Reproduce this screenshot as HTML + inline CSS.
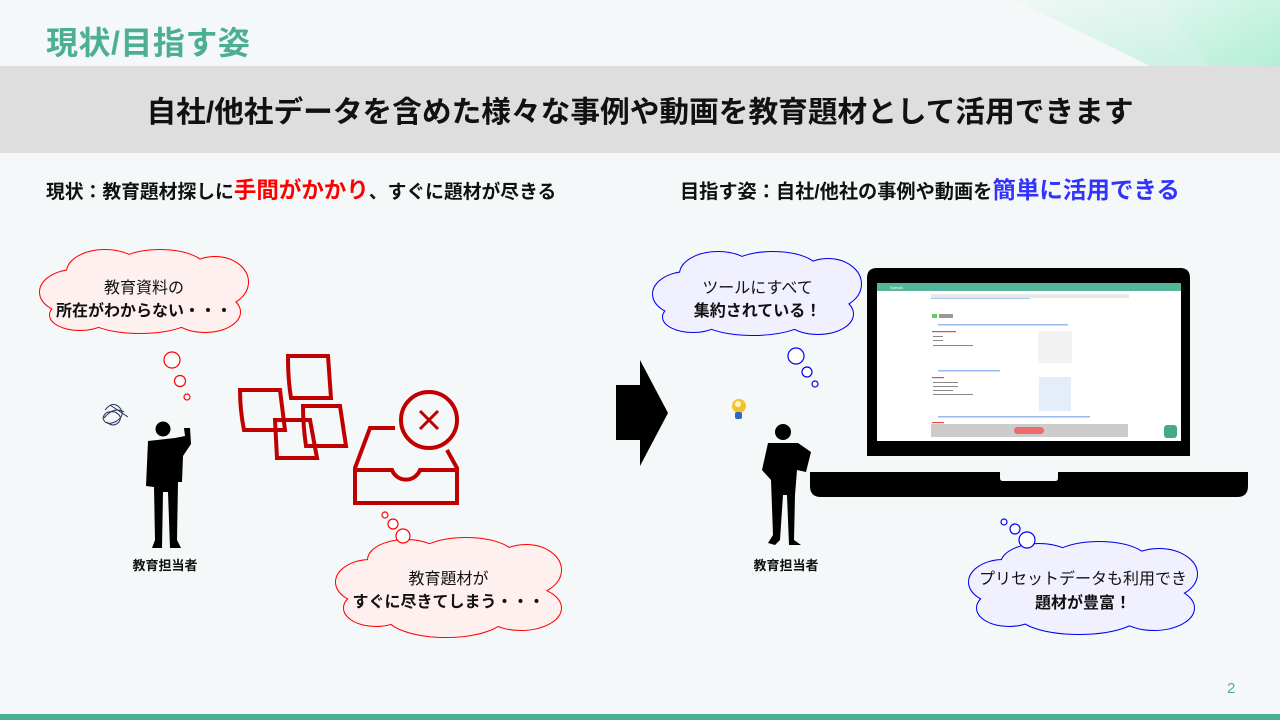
<!DOCTYPE html>
<html><head><meta charset="utf-8">
<style>
body{margin:0;width:1280px;height:720px;overflow:hidden;background:#f5f8f9;font-family:"Liberation Sans","Noto Sans CJK JP",sans-serif;position:relative}
.t{position:absolute;white-space:nowrap}
</style></head><body>
<svg width="1280" height="720" style="position:absolute;left:0;top:0">
<defs>
<linearGradient id="g1" x1="0" y1="0" x2="1" y2="1"><stop offset="0" stop-color="#eef8f4"/><stop offset="1" stop-color="#c4f0e0"/></linearGradient>
<linearGradient id="g2" x1="0" y1="0" x2="1" y2="1"><stop offset="0" stop-color="#e0f7ee"/><stop offset="1" stop-color="#aeeed6"/></linearGradient>
</defs>
<polygon points="1015,0 1280,0 1280,66 1150,66" fill="url(#g1)"/>
<polygon points="1160,0 1280,0 1280,66 1210,66" fill="url(#g2)" opacity="0.8"/>
<rect x="0" y="66" width="1280" height="87" fill="#dedede"/>
<rect x="0" y="714" width="1280" height="6" fill="#4caf94"/>

<g>
<g fill="#fff0f0" stroke="#ff0000" stroke-width="2">
<ellipse cx="75" cy="292" rx="35" ry="22"/><ellipse cx="105" cy="272" rx="38" ry="22"/><ellipse cx="160" cy="268" rx="45" ry="18"/><ellipse cx="215" cy="282" rx="33" ry="25"/><ellipse cx="205" cy="312" rx="35" ry="20"/><ellipse cx="140" cy="315" rx="55" ry="18"/><ellipse cx="80" cy="315" rx="30" ry="15"/>
</g>
<g fill="#fff0f0">
<ellipse cx="75" cy="292" rx="35" ry="22"/><ellipse cx="105" cy="272" rx="38" ry="22"/><ellipse cx="160" cy="268" rx="45" ry="18"/><ellipse cx="215" cy="282" rx="33" ry="25"/><ellipse cx="205" cy="312" rx="35" ry="20"/><ellipse cx="140" cy="315" rx="55" ry="18"/><ellipse cx="80" cy="315" rx="30" ry="15"/>
<ellipse cx="143" cy="293" rx="85" ry="25"/>
</g></g>
<g fill="#fff" stroke="#ff0000" stroke-width="1.2"><circle cx="172" cy="360" r="8"/><circle cx="180" cy="381" r="5.5"/><circle cx="187" cy="397" r="3"/></g>

<g transform="translate(296,290)">
<g fill="#fff0f0" stroke="#ff0000" stroke-width="2">
<ellipse cx="75" cy="292" rx="35" ry="22"/><ellipse cx="110" cy="270" rx="38" ry="20"/><ellipse cx="170" cy="266" rx="48" ry="18"/><ellipse cx="230" cy="280" rx="35" ry="25"/><ellipse cx="225" cy="318" rx="40" ry="22"/><ellipse cx="150" cy="325" rx="60" ry="22"/><ellipse cx="80" cy="318" rx="32" ry="18"/>
</g>
<g fill="#fff0f0">
<ellipse cx="75" cy="292" rx="35" ry="22"/><ellipse cx="110" cy="270" rx="38" ry="20"/><ellipse cx="170" cy="266" rx="48" ry="18"/><ellipse cx="230" cy="280" rx="35" ry="25"/><ellipse cx="225" cy="318" rx="40" ry="22"/><ellipse cx="150" cy="325" rx="60" ry="22"/><ellipse cx="80" cy="318" rx="32" ry="18"/>
<ellipse cx="152" cy="296" rx="90" ry="30"/>
</g></g>
<g fill="#fff" stroke="#ff0000" stroke-width="1.2"><circle cx="385" cy="515" r="3"/><circle cx="393" cy="524" r="5"/><circle cx="403" cy="536" r="7"/></g>

<g transform="translate(613,2)">
<g fill="#f0f0ff" stroke="#0000ee" stroke-width="2">
<ellipse cx="75" cy="292" rx="35" ry="22"/><ellipse cx="105" cy="272" rx="38" ry="22"/><ellipse cx="160" cy="268" rx="45" ry="18"/><ellipse cx="215" cy="282" rx="33" ry="25"/><ellipse cx="205" cy="312" rx="35" ry="20"/><ellipse cx="140" cy="315" rx="55" ry="18"/><ellipse cx="80" cy="315" rx="30" ry="15"/>
</g>
<g fill="#f0f0ff">
<ellipse cx="75" cy="292" rx="35" ry="22"/><ellipse cx="105" cy="272" rx="38" ry="22"/><ellipse cx="160" cy="268" rx="45" ry="18"/><ellipse cx="215" cy="282" rx="33" ry="25"/><ellipse cx="205" cy="312" rx="35" ry="20"/><ellipse cx="140" cy="315" rx="55" ry="18"/><ellipse cx="80" cy="315" rx="30" ry="15"/>
<ellipse cx="143" cy="293" rx="85" ry="25"/>
</g></g>
<g fill="#fff" stroke="#0000ee" stroke-width="1.2"><circle cx="796" cy="356" r="8"/><circle cx="807" cy="372" r="5"/><circle cx="815" cy="384" r="3"/></g>

<g transform="translate(929,290)">
<g fill="#f0f0ff" stroke="#0000ee" stroke-width="2">
<ellipse cx="75" cy="292" rx="35" ry="22"/><ellipse cx="110" cy="274" rx="38" ry="20"/><ellipse cx="170" cy="270" rx="48" ry="18"/><ellipse cx="230" cy="284" rx="38" ry="25"/><ellipse cx="225" cy="318" rx="40" ry="22"/><ellipse cx="150" cy="325" rx="60" ry="19"/><ellipse cx="80" cy="318" rx="32" ry="18"/>
</g>
<g fill="#f0f0ff">
<ellipse cx="75" cy="292" rx="35" ry="22"/><ellipse cx="110" cy="274" rx="38" ry="20"/><ellipse cx="170" cy="270" rx="48" ry="18"/><ellipse cx="230" cy="284" rx="38" ry="25"/><ellipse cx="225" cy="318" rx="40" ry="22"/><ellipse cx="150" cy="325" rx="60" ry="19"/><ellipse cx="80" cy="318" rx="32" ry="18"/>
<ellipse cx="152" cy="298" rx="92" ry="28"/>
</g></g>
<g fill="#fff" stroke="#0000ee" stroke-width="1.2"><circle cx="1004" cy="522" r="3"/><circle cx="1015" cy="529" r="5"/><circle cx="1027" cy="540" r="8"/></g>

<g fill="none" stroke="#2a2f5a" stroke-width="1"><path d="M105,410 q8,-10 15,-2 q6,8 -5,14 q-10,4 -12,-4 q2,-8 12,-6 q8,4 4,10 q-6,6 -12,0 M110,405 l18,12 M104,418 q10,-12 20,-6"/></g>

<g fill="none" stroke="#c00000" stroke-width="4" stroke-linejoin="miter">
<path d="M288,356 L328,356 L331,398 L291,398 Q288,380 288,356Z"/>
<path d="M240,390 L280,390 L285,430 L244,430 Q240,410 240,390Z"/>
<path d="M275,420 L310,420 L317,458 L277,458Z"/>
<path d="M303,406 L340,406 L346,446 L306,446 Q303,425 303,406Z"/>
<path d="M395,428 L370,428 L355,468 L355,503 L457,503 L457,468 L447,450"/>
<path d="M355,470 L392,470 A15,15 0 0 0 420,470 L457,470"/>
<circle cx="429" cy="420" r="28"/>
<path d="M420,411 L438,429 M438,411 L420,429" stroke-width="3"/>
</g>

<g fill="#000">
<circle cx="163" cy="429" r="7.5"/>
<path d="M148,441 L175,438 L185,436 L184,428 L190,428 L191,444 L183,456 L182,482 L178,482 L177,540 L181,548 L170,548 L168,492 L163,492 L162,548 L152,548 L155,540 L154,487 L146,486 Z"/>
</g>
<g fill="#000">
<circle cx="783" cy="432" r="8"/>
<path d="M768,443 L798,443 L811,452 L806,472 L797,470 L795,495 L794,540 L801,545 L789,545 L787,495 L783,495 L780,540 L775,545 L768,543 L773,535 L771,480 L762,470 Z"/>
</g>
<circle cx="739" cy="406" r="7" fill="#f6c22a"/><circle cx="738" cy="404" r="3" fill="#fff6c0"/><rect x="735" y="412" width="7" height="7" rx="2" fill="#3668b8"/>

<polygon points="616,385 640,385 640,360 668,413 640,466 640,440 616,440" fill="#000"/>

<path d="M877,268 L1180,268 Q1190,268 1190,278 L1190,456 L867,456 L867,278 Q867,268 877,268Z" fill="#000"/>
<rect x="877" y="283" width="304" height="158" fill="#fff"/>
<rect x="877" y="283" width="304" height="8" fill="#55b59a"/>
<text x="890" y="289" font-size="4" fill="#fff" font-family="Liberation Sans">SpectA</text>
<rect x="931" y="294" width="198" height="4" fill="#e8e8e8"/>
<rect x="931" y="298" width="99" height="1" fill="#a8c8f0"/>
<g fill="#9ab8f0"><rect x="938" y="324" width="130" height="1.5"/><rect x="938" y="370" width="62" height="1.5"/><rect x="938" y="416" width="152" height="1.5"/></g>
<rect x="932" y="314" width="5" height="4" fill="#6c6"/><rect x="939" y="314" width="14" height="4" fill="#999"/>
<g fill="#e44"><rect x="932" y="331" width="24" height="1.2"/><rect x="932" y="377" width="12" height="1.2"/><rect x="932" y="422" width="12" height="1.2"/></g>
<g fill="#888"><rect x="933" y="336" width="10" height="1"/><rect x="933" y="340" width="10" height="1"/><rect x="933" y="345" width="40" height="1"/><rect x="933" y="382" width="25" height="1"/><rect x="933" y="386" width="25" height="1"/><rect x="933" y="390" width="20" height="1"/><rect x="933" y="394" width="40" height="1"/></g>
<rect x="1038" y="331" width="34" height="32" fill="#f2f2f2"/><rect x="1039" y="377" width="32" height="34" fill="#e4eef8"/>
<rect x="931" y="424" width="197" height="13" fill="#ccc"/>
<rect x="1014" y="427" width="30" height="7" rx="3.5" fill="#ef6b6b"/>
<rect x="1164" y="425" width="13" height="13" rx="3" fill="#46a88c"/>
<path d="M810,472 L1248,472 L1248,486 Q1248,497 1237,497 L821,497 Q810,497 810,486Z" fill="#000"/>
<path d="M1000,472 L1058,472 L1058,478 Q1058,481 1055,481 L1003,481 Q1000,481 1000,478Z" fill="#f5f8f9"/>
</svg>

<div class="t" style="left:46px;top:18px;font-size:32px;font-weight:bold;color:#4caf94;letter-spacing:0.5px">現状/目指す姿</div>
<div class="t" style="left:0;width:1280px;text-align:center;top:88px;font-size:29.7px;font-weight:bold;color:#111">自社/他社データを含めた様々な事例や動画を教育題材として活用できます</div>
<div class="t" style="left:46px;top:173px;font-size:18.8px;font-weight:bold;color:#111">現状：教育題材探しに<span style="color:#ff0000;font-size:22.5px">手間がかかり</span>、すぐに題材が尽きる</div>
<div class="t" style="left:680px;top:171px;font-size:19.2px;font-weight:bold;color:#111">目指す姿：自社/他社の事例や動画を<span style="color:#3333ff;font-size:23.5px">簡単に活用できる</span></div>

<div class="t" style="left:40px;width:208px;text-align:center;top:277px;font-size:16px;line-height:23px;color:#111">教育資料の<br><b>所在がわからない・・・</b></div>
<div class="t" style="left:335px;width:227px;text-align:center;top:568px;font-size:16px;line-height:23px;color:#111">教育題材が<br><b>すぐに尽きてしまう・・・</b></div>
<div class="t" style="left:653px;width:209px;text-align:center;top:277px;font-size:16px;line-height:23px;color:#111">ツールにすべて<br><b>集約されている！</b></div>
<div class="t" style="left:968px;width:230px;text-align:center;top:568px;font-size:16px;line-height:24px;color:#111">プリセットデータも利用でき<br><b>題材が豊富！</b></div>

<div class="t" style="left:115px;width:100px;text-align:center;top:555px;font-size:13px;font-weight:bold;color:#111">教育担当者</div>
<div class="t" style="left:736px;width:100px;text-align:center;top:555px;font-size:13px;font-weight:bold;color:#111">教育担当者</div>
<div class="t" style="left:1227px;top:680px;font-size:15px;color:#4caf94">2</div>
</body></html>
